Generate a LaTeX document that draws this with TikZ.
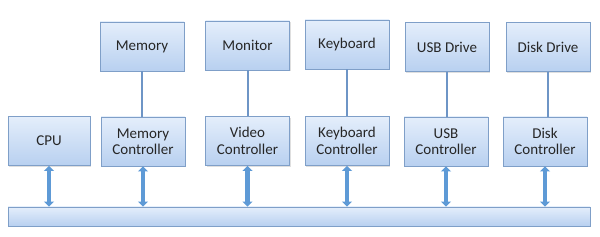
\documentclass[tikz,border=0pt]{standalone}
\usepackage{fontspec}
\setmainfont{Carlito}
\usetikzlibrary{shadows,arrows.meta}

\definecolor{boxtop}{HTML}{E4EEFB}
\definecolor{boxbot}{HTML}{B8D0F0}
\definecolor{boxline}{HTML}{7F9FC8}
\definecolor{linkcol}{HTML}{6E95C6}
\definecolor{buscol}{HTML}{5E9AD6}

\tikzset{
  unit/.style={draw=boxline, line width=0.8pt, top color=boxtop, bottom color=boxbot,
    minimum width=84pt, minimum height=49pt, inner sep=1pt, align=center,
    font=\fontsize{15pt}{16.5pt}\selectfont, text=black!85,
    drop shadow={opacity=0.25, shadow xshift=1.2pt, shadow yshift=-1.2pt}},
  link/.style={draw=linkcol, line width=2pt},
  busarrow/.style={draw=buscol, line width=4.5pt,
    {Triangle[width=10pt,length=5pt]}-{Triangle[width=10pt,length=5pt]}}
}

\begin{document}
\begin{tikzpicture}[x=1pt,y=-1pt]
  \useasboundingbox (0,0) rectangle (600,237);

  % system bus
  \node[unit, minimum width=582pt, minimum height=19pt] (bus) at (299,216.5) {};

  % processor
  \node[unit, minimum width=82pt] (cpu) at (49,141) {CPU};

  % devices and their controllers
  \node[unit] (mem) at (142,46.5) {Memory};
  \node[unit] (memctl) at (143,141.5) {Memory\\Controller};
  \node[unit] (mon) at (247.5,45.5) {Monitor};
  \node[unit] (vidctl) at (247.5,141) {Video\\Controller};
  \node[unit] (kbd) at (347,44.5) {Keyboard};
  \node[unit] (kbdctl) at (347,141) {Keyboard\\Controller};
  \node[unit] (usb) at (447,47) {USB Drive};
  \node[unit] (usbctl) at (446,141.5) {USB\\Controller};
  \node[unit] (disk) at (548,47) {Disk Drive};
  \node[unit] (diskctl) at (545,141.5) {Disk\\Controller};

  \foreach \d/\c in {mem/memctl,mon/vidctl,kbd/kbdctl,usb/usbctl,disk/diskctl} {
    \draw[link] (\d.south) -- (\d.south |- \c.north);
  }

  \foreach \c in {cpu,memctl,vidctl,kbdctl,usbctl,diskctl} {
    \draw[busarrow] (\c.south) -- (\c.south |- bus.north);
  }
\end{tikzpicture}
\end{document}
